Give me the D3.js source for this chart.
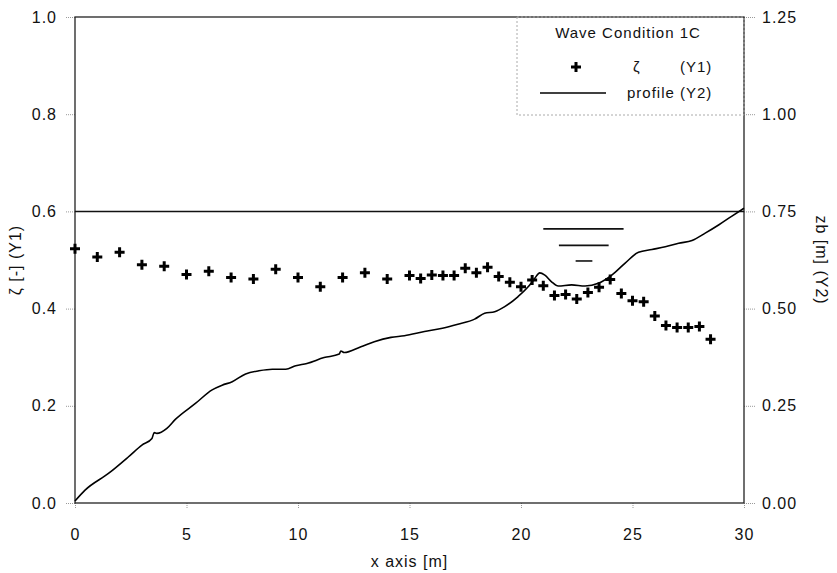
<!DOCTYPE html>
<html lang="en">
<head>
    <meta charset="UTF-8">
    <title>Wave Condition 1C</title>
    <script src="https://d3js.org/d3.v7.min.js"></script>
    <style>
        body { margin: 0; background: #fff; }
        text { font-family: "Liberation Sans", Arial, sans-serif; fill: #111; }
    </style>
</head>
<body>
<script>
    // measured wave parameter zeta (Y1)
    var zetaX = [0, 1, 2, 3, 4, 5, 6, 7, 8, 9, 10, 11, 12, 13, 14, 15, 15.5, 16, 16.5, 17, 17.5, 18, 18.5,
                 19, 19.5, 20, 20.5, 21, 21.5, 22, 22.5, 23, 23.5, 24, 24.5, 25, 25.5, 26, 26.5, 27, 27.5, 28, 28.5];
    var zetaY = [0.523, 0.506, 0.516, 0.490, 0.487, 0.470, 0.477, 0.464, 0.461, 0.481, 0.464, 0.445, 0.464,
                 0.474, 0.461, 0.468, 0.462, 0.469, 0.468, 0.468, 0.483, 0.474, 0.485, 0.466, 0.454, 0.445,
                 0.459, 0.447, 0.427, 0.429, 0.420, 0.433, 0.444, 0.460, 0.431, 0.416, 0.414, 0.385, 0.365,
                 0.361, 0.361, 0.363, 0.337];

    // bottom profile zb (Y2)
    var profX = [0, 0.45, 1.5, 2.4, 3.0, 3.45, 3.55, 3.67, 4.12, 4.5, 5.4, 6.15, 6.6, 7.05, 7.65, 8.25, 8.85,
                 9.45, 9.9, 10.4, 11.17, 11.85, 11.92, 12.07, 12.82, 13.42, 14.17, 14.77, 15.67, 16.42, 17.17,
                 17.92, 18.37, 18.82, 19.27, 19.87, 20.32, 20.62, 20.84, 21.07, 21.37, 21.67, 22.27, 22.87,
                 23.47, 24.07, 24.67, 25.27, 25.87, 26.47, 27.07, 27.67, 28.26, 28.86, 29.46, 30.0];
    var profY = [0.005, 0.033, 0.076, 0.119, 0.149, 0.166, 0.181, 0.179, 0.192, 0.215, 0.256, 0.291, 0.303,
                 0.312, 0.332, 0.340, 0.344, 0.344, 0.353, 0.359, 0.374, 0.383, 0.391, 0.387, 0.402, 0.415,
                 0.426, 0.430, 0.441, 0.449, 0.460, 0.473, 0.488, 0.492, 0.505, 0.531, 0.556, 0.578, 0.592,
                 0.586, 0.569, 0.558, 0.561, 0.558, 0.565, 0.586, 0.617, 0.645, 0.652, 0.659, 0.668, 0.675,
                 0.694, 0.715, 0.738, 0.758];

    // still water level (Y1) and water level symbol lines [x1, x2, y]
    var waterLevel = 0.6;
    var symbolLines = [[21.0, 24.6, 0.564], [21.7, 23.93, 0.530], [22.45, 23.2, 0.498]];

    var xTicks = [0, 5, 10, 15, 20, 25, 30];
    var y1Ticks = [0, 0.2, 0.4, 0.6, 0.8, 1.0];
    var y2Ticks = [0, 0.25, 0.5, 0.75, 1.0, 1.25];

    var w = 837, h = 573;
    var margin = {top: 17, right: 93, bottom: 70, left: 75};
    var iw = w - margin.left - margin.right;
    var ih = h - margin.top - margin.bottom;

    var svg = d3.select("body").append("svg")
        .attr("width", w).attr("height", h);
    var g = svg.append("g")
        .attr("transform", "translate(" + margin.left + "," + margin.top + ")");

    var x = d3.scaleLinear().domain([0, 30]).range([0, iw]);
    var y1 = d3.scaleLinear().domain([0, 1]).range([ih, 0]);
    var y2 = d3.scaleLinear().domain([0, 1.25]).range([ih, 0]);

    // axes
    var xAxis = g.append("g").attr("transform", "translate(0," + ih + ")")
        .call(d3.axisBottom(x).tickValues(xTicks).tickSize(6).tickPadding(20).tickFormat(d3.format("d")));
    var yAxisL = g.append("g")
        .call(d3.axisLeft(y1).tickValues(y1Ticks).tickSize(10).tickPadding(8).tickFormat(d3.format(".1f")));
    var yAxisR = g.append("g").attr("transform", "translate(" + iw + ",0)")
        .call(d3.axisRight(y2).tickValues(y2Ticks).tickSize(12).tickPadding(6).tickFormat(d3.format(".2f")));

    [xAxis, yAxisL, yAxisR].forEach(function(a) {
        a.select(".domain").remove();
        a.selectAll(".tick line").attr("stroke", "#999").attr("stroke-dasharray", "1,1");
        a.selectAll(".tick text").attr("font-size", "16px").attr("letter-spacing", "1px")
            .attr("font-family", "Liberation Sans, Arial, sans-serif").attr("fill", "#111");
    });

    // frame
    g.append("rect").attr("x", 0).attr("y", 0).attr("width", iw).attr("height", ih)
        .attr("fill", "none").attr("stroke", "#222").attr("stroke-width", 1.3);

    // legend box (dotted)
    var lg = g.append("g").attr("transform", "translate(" + (517 - margin.left) + ",0)");
    lg.append("rect").attr("x", 0).attr("y", 0).attr("width", iw - (517 - margin.left)).attr("height", 98)
        .attr("fill", "none").attr("stroke", "#aaa").attr("stroke-dasharray", "2,2");
    lg.append("text").attr("x", 111).attr("y", 21).attr("text-anchor", "middle")
        .attr("font-size", "15px").attr("letter-spacing", "1px").text("Wave Condition 1C");
    lg.append("path").attr("d", "M-5,0H5M0,-5V5")
        .attr("transform", "translate(59,50)").attr("stroke", "#000").attr("stroke-width", 3);
    lg.append("text").attr("x", 116).attr("y", 55).attr("font-size", "15px").text("ζ");
    lg.append("text").attr("x", 163).attr("y", 55).attr("font-size", "15px").attr("letter-spacing", "1px").text("(Y1)");
    lg.append("line").attr("x1", 23).attr("x2", 89).attr("y1", 76).attr("y2", 76)
        .attr("stroke", "#000").attr("stroke-width", 1.4);
    lg.append("text").attr("x", 110).attr("y", 81).attr("font-size", "15px").attr("letter-spacing", "1px").text("profile (Y2)");

    // still water line
    g.append("line").attr("x1", x(0)).attr("x2", x(30)).attr("y1", y1(waterLevel)).attr("y2", y1(waterLevel))
        .attr("stroke", "#111").attr("stroke-width", 1.5);

    // water level symbol
    g.selectAll(".wl").data(symbolLines).enter().append("line")
        .attr("x1", function(d) { return x(d[0]); })
        .attr("x2", function(d) { return x(d[1]); })
        .attr("y1", function(d) { return y1(d[2]); })
        .attr("y2", function(d) { return y1(d[2]); })
        .attr("stroke", "#111").attr("stroke-width", 1.6);

    // profile
    var line = d3.line()
        .x(function(d, i) { return x(profX[i]); })
        .y(function(d) { return y2(d); })
        .curve(d3.curveMonotoneX);
    g.append("path").datum(profY).attr("d", line)
        .attr("fill", "none").attr("stroke", "#000").attr("stroke-width", 1.6);

    // zeta markers
    g.selectAll(".pt").data(zetaY).enter().append("path")
        .attr("d", "M-5,0H5M0,-5V5")
        .attr("transform", function(d, i) { return "translate(" + x(zetaX[i]) + "," + y1(d) + ")"; })
        .attr("stroke", "#000").attr("stroke-width", 3);

    // axis titles
    svg.append("text").attr("x", margin.left + iw / 2).attr("y", 567).attr("text-anchor", "middle")
        .attr("font-size", "16px").attr("letter-spacing", "1px").text("x axis [m]");
    svg.append("text").attr("transform", "translate(21," + (margin.top + ih / 2) + ") rotate(-90)")
        .attr("text-anchor", "middle").attr("font-size", "16px").attr("letter-spacing", "1px").text("ζ [-] (Y1)");
    svg.append("text").attr("transform", "translate(816," + (margin.top + ih / 2) + ") rotate(90)")
        .attr("text-anchor", "middle").attr("font-size", "16px").attr("letter-spacing", "1px").text("zb [m] (Y2)");
</script>
</body>
</html>
